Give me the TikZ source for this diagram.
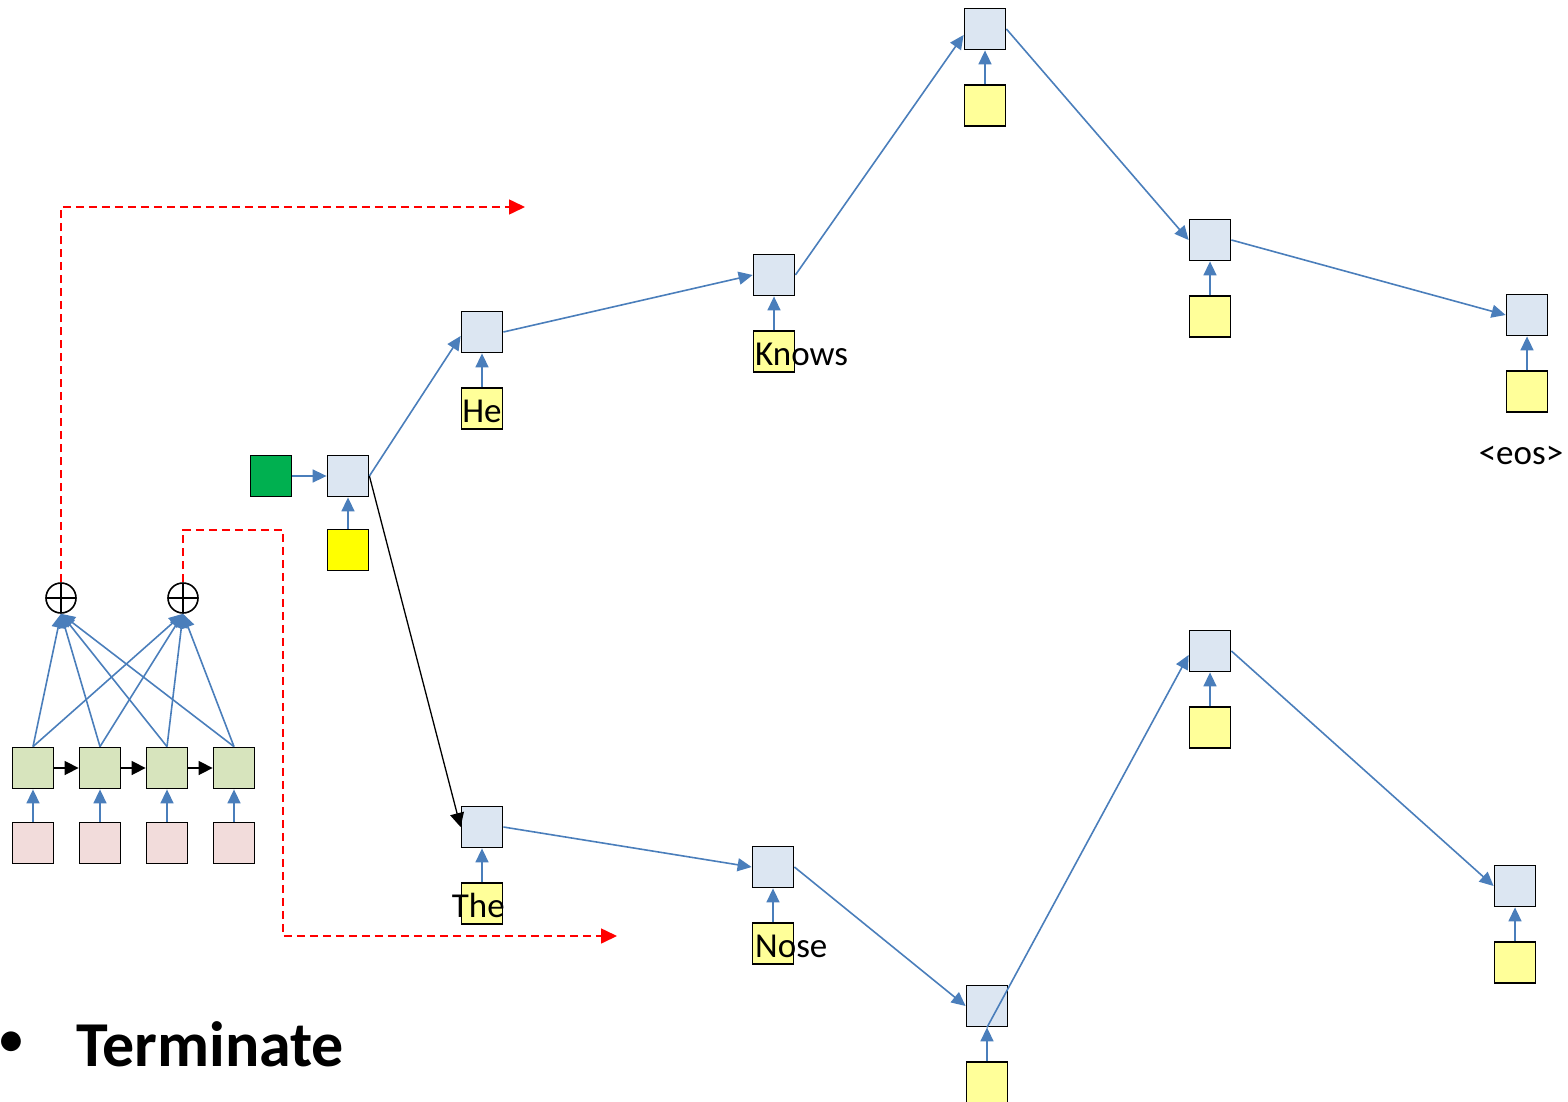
\documentclass[tikz,border=0pt]{standalone}
\usepackage{fontspec}
\setmainfont{Carlito}
\usetikzlibrary{arrows.meta,positioning}

\definecolor{decblue}{HTML}{DCE6F2}
\definecolor{wordyellow}{HTML}{FFFF99}
\definecolor{startyellow}{HTML}{FFFF00}
\definecolor{gogreen}{HTML}{00B050}
\definecolor{encgreen}{HTML}{D7E4BD}
\definecolor{embpink}{HTML}{F2DCDB}
\definecolor{lineblue}{HTML}{4A7EBB}

\begin{document}
\begin{tikzpicture}[x=1pt,y=-1pt,
    cell/.style={draw=black,line width=1.8pt,minimum size=41pt,inner sep=0pt},
    dec/.style={cell,fill=decblue},
    word/.style={cell,fill=wordyellow},
    enc/.style={cell,fill=encgreen},
    emb/.style={cell,fill=embpink},
    link/.style={draw=lineblue,line width=1.6pt,-{Triangle[length=14pt,width=13pt]}},
    chain/.style={draw=black,line width=1.6pt,-{Triangle[length=14pt,width=14pt]}},
    memo/.style={draw=red,line width=1.6pt,dash pattern=on 8pt off 5pt,-{Triangle[length=16pt,width=15pt]}},
    wordtext/.style={font=\fontsize{35}{40}\selectfont,inner sep=0pt},
    sumnode/.style={circle,draw=black,line width=1.6pt,minimum size=30pt,inner sep=0pt,
        path picture={\draw[line width=1.6pt]
            (path picture bounding box.north) -- (path picture bounding box.south)
            (path picture bounding box.west) -- (path picture bounding box.east);}}
]
    \useasboundingbox (0,0) rectangle (1568,1102);

    % === ENCODER ===
    \foreach \i/\x in {1/33,2/100,3/167,4/234} {
        \node[enc] (e\i) at (\x,768) {};
        \node[emb] (p\i) at (\x,843) {};
        \draw[link] (p\i) -- (e\i);
    }
    \foreach \i/\j in {1/2,2/3,3/4}
        \draw[chain] (e\i) -- (e\j);

    % === ATTENTION SUMS ===
    \node[sumnode] (o1) at (61,598) {};
    \node[sumnode] (o2) at (183,598) {};
    \foreach \i in {1,...,4} {
        \draw[link] (e\i.north) -- (o1.south);
        \draw[link] (e\i.north) -- (o2.south);
    }

    % === CONTEXT (RED DASHED) ===
    \coordinate (m1) at (525,207);
    \coordinate (k1) at (283,530);
    \coordinate (m2) at (617,936);
    \draw[memo] (o1.north) |- (m1);
    \draw[memo] (o2.north) |- (k1) |- (m2);

    % === START ===
    \node[cell,fill=gogreen] (go) at (271,476) {};
    \node[dec] (s0) at (348,476) {};
    \node[cell,fill=startyellow] (in0) at (348,550) {};
    \draw[link] (go) -- (s0);
    \draw[link] (in0) -- (s0);

    % === UPPER BEAM ===
    \foreach \n/\x/\y in {h1/482/332,h2/774/275,h3/985/29,h4/1210/240,h5/1527/315} {
        \node[dec] (\n) at (\x,\y) {};
        \node[word,below=34pt of \n] (w\n) {};
        \draw[link] (w\n) -- (\n);
    }
    \node[wordtext,anchor=base] (lhe) at (482,422) {He};
    \node[wordtext,anchor=base west] (lknows) at (755,365) {Knows};
    \node[wordtext,anchor=base] (leos) at (1521,464) {<eos>};

    \draw[link] (s0.east) -- ([yshift=-4pt]h1.west);
    \draw[link] (h1.east) -- (h2.west);
    \draw[link] (h2.east) -- ([yshift=-6pt]h3.west);
    \draw[link] (h3.east) -- (h4.west);
    \draw[link] (h4.east) -- (h5.west);

    % === LOWER BEAM ===
    \foreach \n/\x/\y in {t1/482/827,t2/773/867,t3/987/1006,t4/1210/651,t5/1515/886} {
        \node[dec] (\n) at (\x,\y) {};
        \node[word,below=34pt of \n] (w\n) {};
        \draw[link] (w\n) -- (\n);
    }
    \node[wordtext,anchor=base east] (lthe) at (505,917) {The};
    \node[wordtext,anchor=base west] (lnose) at (755,957) {Nose};

    \draw[chain,line width=1.3pt] (s0.east) -- (t1.west);
    \draw[link] (t1.east) -- (t2.west);
    \draw[link] (t2.east) -- (t3.west);
    \draw[link] (t3.south) -- ([yshift=-4pt]t4.west);
    \draw[link] (t4.east) -- (t5.west);

    % === TITLE ===
    \node[font=\fontsize{56}{60}\selectfont,inner sep=0pt] (dot) at (11,1045) {•};
    \node[font=\bfseries\fontsize{64}{70}\selectfont,inner sep=0pt,anchor=base west] (term) at (76,1066) {Terminate};
\end{tikzpicture}
\end{document}
